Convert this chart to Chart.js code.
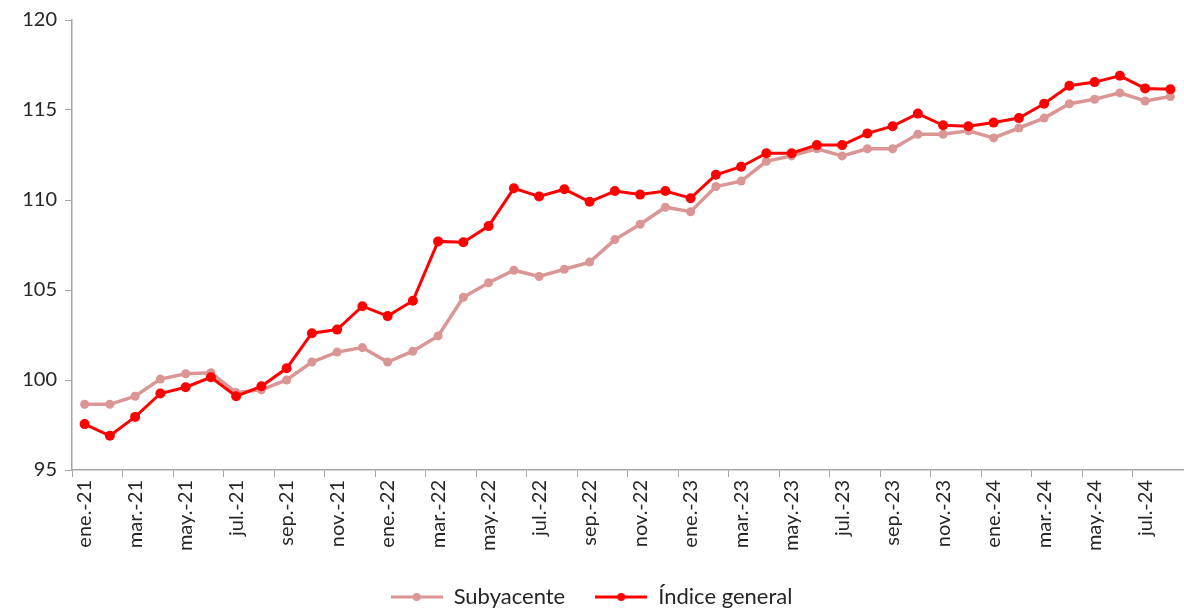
<!DOCTYPE html>
<html>
<head>
<meta charset="utf-8">
<script src="https://cdn.jsdelivr.net/npm/chart.js@4"></script>
<style>
  html, body { margin: 0; padding: 0; background: #fff; }
  #wrap { width: 1184px; height: 609px; }
</style>
</head>
<body>
<div id="wrap"><canvas id="indiceChart" width="1184" height="609"></canvas></div>
<script>
const meses = [
  'ene.-21','feb.-21','mar.-21','abr.-21','may.-21','jun.-21','jul.-21','ago.-21','sep.-21','oct.-21','nov.-21','dic.-21',
  'ene.-22','feb.-22','mar.-22','abr.-22','may.-22','jun.-22','jul.-22','ago.-22','sep.-22','oct.-22','nov.-22','dic.-22',
  'ene.-23','feb.-23','mar.-23','abr.-23','may.-23','jun.-23','jul.-23','ago.-23','sep.-23','oct.-23','nov.-23','dic.-23',
  'ene.-24','feb.-24','mar.-24','abr.-24','may.-24','jun.-24','jul.-24','ago.-24'
];
const subyacente = [
  98.65, 98.65, 99.1, 100.05, 100.35, 100.4, 99.3, 99.45, 100.0, 101.0, 101.55, 101.8,
  101.0, 101.6, 102.45, 104.6, 105.4, 106.1, 105.75, 106.15, 106.55, 107.8, 108.65, 109.6,
  109.35, 110.75, 111.05, 112.15, 112.45, 112.85, 112.45, 112.85, 112.85, 113.65, 113.65, 113.85,
  113.45, 114.0, 114.55, 115.35, 115.6, 115.95, 115.5, 115.75
];
const indiceGeneral = [
  97.55, 96.9, 97.95, 99.25, 99.6, 100.15, 99.1, 99.65, 100.65, 102.6, 102.8, 104.1,
  103.55, 104.4, 107.7, 107.65, 108.55, 110.65, 110.2, 110.6, 109.9, 110.5, 110.3, 110.5,
  110.1, 111.4, 111.85, 112.6, 112.6, 113.05, 113.05, 113.7, 114.1, 114.8, 114.15, 114.1,
  114.3, 114.55, 115.35, 116.35, 116.55, 116.9, 116.2, 116.15
];

const ROSA = '#D99694';
const ROJO = '#FF0000';
const FUENTE = 'Lato, "Open Sans", sans-serif';

// icono de leyenda: linea con punto, estilo Excel
function iconoLeyenda(color) {
  const c = document.createElement('canvas');
  c.width = 52; c.height = 12;
  const g = c.getContext('2d');
  g.strokeStyle = color; g.lineWidth = 3;
  g.beginPath(); g.moveTo(0, 6); g.lineTo(52, 6); g.stroke();
  g.fillStyle = color;
  g.beginPath(); g.arc(26, 6, 4, 0, Math.PI * 2); g.fill();
  return c;
}

// baja la leyenda hasta el borde inferior, como en el original
const bajarLeyenda = {
  id: 'bajarLeyenda',
  afterLayout(chart) {
    chart.legend.top += 9;
    chart.legend.bottom += 9;
  }
};

const ctx = document.getElementById('indiceChart').getContext('2d');
const indiceChart = new Chart(ctx, {
  type: 'line',
  data: {
    labels: meses,
    datasets: [
      {
        label: 'Subyacente',
        data: subyacente,
        borderColor: ROSA,
        backgroundColor: ROSA,
        borderWidth: 3.5,
        pointRadius: 4.5,
        pointBorderWidth: 0,
        tension: 0,
        order: 2
      },
      {
        label: 'Índice general',
        data: indiceGeneral,
        borderColor: ROJO,
        backgroundColor: ROJO,
        borderWidth: 3,
        pointRadius: 5,
        pointBorderWidth: 0,
        tension: 0,
        order: 1
      }
    ]
  },
  options: {
    responsive: false,
    animation: false,
    layout: { autoPadding: false, padding: { top: 10, right: 1, bottom: 0, left: 0 } },
    plugins: {
      tooltip: { enabled: false },
      legend: {
        position: 'bottom',
        labels: {
          usePointStyle: true,
          pointStyleWidth: 52,
          generateLabels: (chart) => chart.data.datasets.map((ds, i) => ({
            text: ds.label,
            pointStyle: iconoLeyenda(ds.borderColor),
            fillStyle: ds.borderColor,
            strokeStyle: ds.borderColor,
            lineWidth: 0,
            fontColor: '#262626',
            datasetIndex: i
          })),
          padding: 30,
          color: '#262626',
          font: { family: FUENTE, size: 22 }
        }
      }
    },
    scales: {
      x: {
        offset: true,
        grid: {
          offset: true,
          drawOnChartArea: false,
          tickLength: 7,
          color: (c) => (c.index % 2 === 0 ? '#A6A6A6' : 'rgba(0,0,0,0)')
        },
        border: { color: '#A6A6A6', width: 1.5 },
        ticks: {
          autoSkip: false,
          maxRotation: 90,
          minRotation: 90,
          color: '#262626',
          font: { family: FUENTE, size: 20 },
          callback: function (val, i) { return i % 2 === 0 ? this.getLabelForValue(val) : ''; }
        },
        afterFit: (s) => {
          s.height = 77;
          s.paddingLeft = 0;
          s.paddingRight = 0;
          s._computeLabelArea = () => undefined; // sin recorte de etiquetas
        }
      },
      y: {
        min: 95,
        max: 120,
        ticks: {
          stepSize: 5,
          color: '#262626',
          padding: 8,
          font: { family: FUENTE, size: 20 }
        },
        grid: { drawOnChartArea: false, tickLength: 7, color: '#A6A6A6' },
        border: { color: '#A6A6A6', width: 1.5 },
        afterFit: (s) => { s.width = 72; }
      }
    }
  },
  plugins: [bajarLeyenda]
});
</script>
</body>
</html>
